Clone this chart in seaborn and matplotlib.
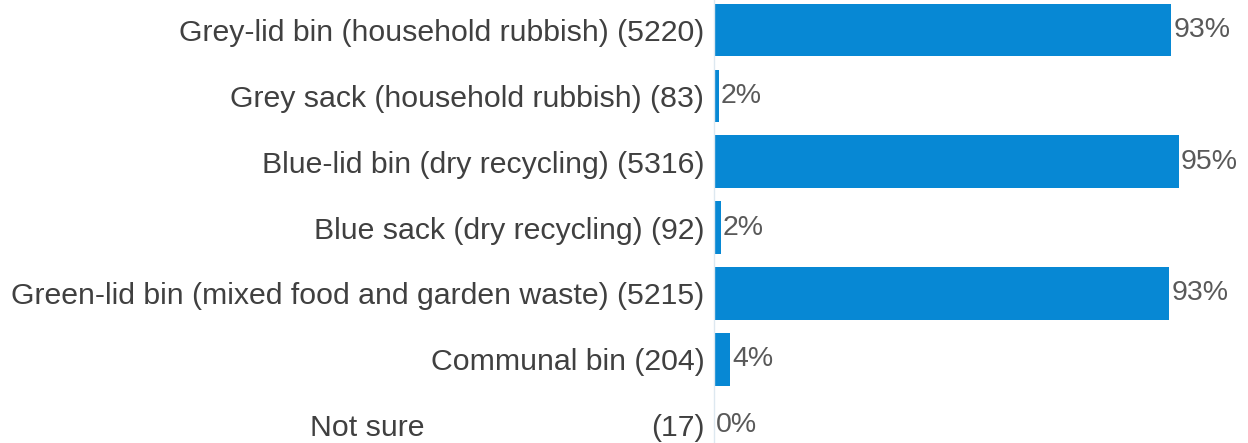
import pandas as pd
import seaborn as sns
import matplotlib.pyplot as plt
from matplotlib.transforms import blended_transform_factory

# values
categories = [
    'Grey-lid bin (household rubbish)',
    'Grey sack (household rubbish)',
    'Blue-lid bin (dry recycling)',
    'Blue sack (dry recycling)',
    'Green-lid bin (mixed food and garden waste)',
    'Communal bin',
    'Not sure',
]
counts = [5220, 83, 5316, 92, 5215, 204, 17]
# bar lengths as measured, and the rounded labels printed beside them
shares = [93.4, 1.0, 95.0, 1.4, 93.0, 3.3, 0.0]
percent_labels = ['93%', '2%', '95%', '2%', '93%', '4%', '0%']

bar_color = '#0788d4'
text_color = '#404040'

sns.set_theme(style='white')
plt.rcParams['font.family'] = ['Liberation Sans', 'DejaVu Sans']

df = pd.DataFrame({'Category': categories, 'Share': shares, 'Count': counts})

fig = plt.figure(figsize=(12.48, 4.43), dpi=100)
ax = fig.add_axes([0.5721, -0.034, 0.3922, 1.0405])

sns.barplot(ax=ax, data=df, y='Category', x='Share', orient='h',
            color=bar_color, width=0.8, saturation=1, edgecolor='none')

ax.set_xlim(0, 100)
ax.set_xlabel('')
ax.set_ylabel('')
ax.set_xticks([])

labels = [f'{c} ({n})' for c, n in zip(categories, counts)]
labels[-1] = f'({counts[-1]})'
ax.set_yticks(range(len(categories)))
ax.set_yticklabels(labels, fontsize=21.8, color=text_color)
ax.tick_params(axis='y', length=0, pad=7)

# "Not sure" is set apart from its count in the reference
trans = blended_transform_factory(fig.transFigure, ax.transData)
ax.text(310 / 1248, len(categories) - 1, categories[-1], fontsize=21.8,
        color=text_color, ha='left', va='center_baseline', transform=trans)

for c in ax.containers:
    ax.bar_label(c, labels=percent_labels, padding=1.5,
                 fontsize=20.5, color='#595959')

for s in ['top', 'right', 'bottom']:
    ax.spines[s].set_visible(False)
ax.spines['left'].set_color('#dde8f0')
ax.spines['left'].set_linewidth(1)

fig.savefig('out.png', dpi=100)
